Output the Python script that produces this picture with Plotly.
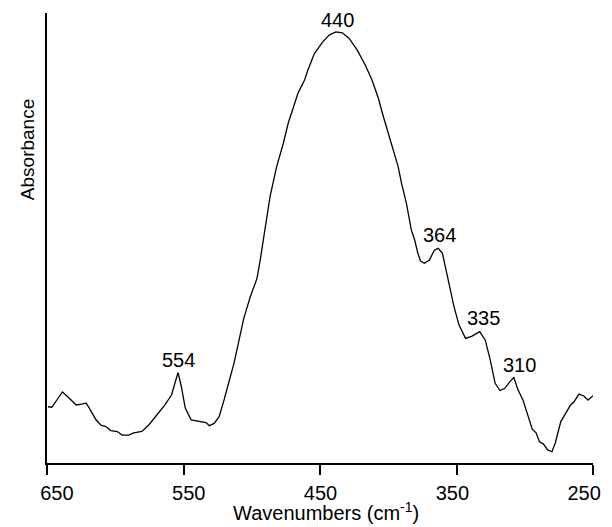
import numpy as np
import plotly.graph_objects as go

# Spectrum (wavenumber in cm^-1, absorbance in arbitrary units)
wavenumber = [649.3, 646.4, 642.8, 638.7, 634.8, 631.2, 628.6, 624.7, 621.3, 619.0,
              614.1, 610.5, 606.9, 603.3, 598.5, 594.9, 590.1, 586.5, 580.5, 575.6,
              569.6, 563.6, 558.8, 556.4, 554.0, 551.6, 548.7, 544.4, 537.1, 533.5,
              531.1, 527.5, 523.9, 520.3, 513.0, 505.8, 501.0, 496.2, 493.8, 490.2,
              486.6, 481.8, 476.9, 473.3, 469.7, 466.1, 461.3, 458.9, 454.1, 448.0,
              443.3, 438.4, 433.6, 428.8, 422.8, 416.8, 411.9, 407.2, 403.6, 400.0,
              396.4, 392.7, 390.3, 386.7, 383.1, 380.7, 378.3, 376.4, 373.5, 369.9,
              366.2, 363.4, 360.3, 356.6, 351.8, 348.2, 343.4, 338.6, 333.0, 328.9,
              325.3, 321.7, 318.1, 314.5, 310.9, 308.0, 304.9, 301.3, 297.7, 294.5,
              291.7, 289.2, 286.3, 283.2, 280.1, 277.7, 273.6, 270.0, 266.4, 263.9,
              260.3, 256.7, 253.6, 250.2, 248.3]
absorbance = [0.125, 0.124, 0.140, 0.158, 0.147, 0.136, 0.129, 0.131, 0.133, 0.122,
              0.096, 0.084, 0.081, 0.072, 0.070, 0.062, 0.062, 0.067, 0.070, 0.084,
              0.107, 0.129, 0.151, 0.177, 0.201, 0.170, 0.122, 0.096, 0.092, 0.090,
              0.083, 0.088, 0.103, 0.140, 0.222, 0.322, 0.370, 0.410, 0.451, 0.525,
              0.592, 0.658, 0.710, 0.755, 0.788, 0.822, 0.851, 0.873, 0.910, 0.936,
              0.951, 0.958, 0.956, 0.944, 0.918, 0.884, 0.851, 0.810, 0.770, 0.733,
              0.696, 0.658, 0.622, 0.577, 0.518, 0.496, 0.466, 0.449, 0.444, 0.451,
              0.473, 0.477, 0.466, 0.411, 0.347, 0.307, 0.277, 0.282, 0.292, 0.273,
              0.229, 0.177, 0.161, 0.166, 0.181, 0.190, 0.162, 0.140, 0.103, 0.075,
              0.067, 0.047, 0.042, 0.029, 0.025, 0.044, 0.092, 0.110, 0.129, 0.136,
              0.153, 0.149, 0.140, 0.149, 0.151]

peak_labels = [554, 440, 364, 335, 310]
tick_values = [650, 550, 450, 350, 250]
tick_labels = ["650", "550", "450", "350", "250"]

# label offsets (pixels) relative to the curve at each peak
label_xshift = [0, 4, 2, 7, 8]
label_yshift = [0, 0, 1, 2, 2]

FONT = "Arial, Liberation Sans, Helvetica, sans-serif"
FS = 20

fig = go.Figure()
fig.add_trace(go.Scatter(x=wavenumber, y=absorbance, mode="lines",
                         line=dict(color="black", width=1.3), showlegend=False,
                         hoverinfo="skip"))
# invisible helper trace so the (label-only) overlay axis has data
fig.add_trace(go.Scatter(x=tick_values, y=[None] * len(tick_values), xaxis="x2",
                         yaxis="y", mode="markers", marker=dict(opacity=0),
                         showlegend=False, hoverinfo="skip"))

wn_sorted = np.array(wavenumber[::-1])
ab_sorted = np.array(absorbance[::-1])
for lab, xs, ys in zip(peak_labels, label_xshift, label_yshift):
    yv = float(np.interp(lab, wn_sorted, ab_sorted))
    fig.add_annotation(x=lab, y=yv, xref="x", yref="y", text=str(lab),
                       showarrow=False, xanchor="center", yanchor="bottom",
                       xshift=xs, yshift=ys,
                       font=dict(family=FONT, size=FS, color="black"))

fig.add_annotation(x=-0.036, y=0.696, xref="paper", yref="paper",
                   text="Absorbance", textangle=-90, showarrow=False,
                   xanchor="center", yanchor="middle",
                   font=dict(family=FONT, size=FS - 1, color="black"))

fig.add_annotation(x=0.511, y=0, xref="paper", yref="paper",
                   text="Wavenumbers (cm<sup>-1</sup>)", showarrow=False,
                   xanchor="center", yanchor="middle", yshift=-48,
                   font=dict(family=FONT, size=FS, color="black"))

fig.update_layout(
    width=612, height=527,
    margin=dict(l=47, r=11, t=13, b=64),
    paper_bgcolor="white", plot_bgcolor="white",
    font=dict(family=FONT, size=FS, color="black"),
    xaxis=dict(range=[650, 250], autorange=False, tickmode="array",
               tickvals=tick_values, showticklabels=False, ticks="outside",
               ticklen=10, tickwidth=2, tickcolor="black", showline=True,
               linewidth=2, linecolor="black", showgrid=False, zeroline=False),
    xaxis2=dict(range=[657.5, 243.3], autorange=False, overlaying="x",
                side="bottom", anchor="y", tickmode="array",
                tickvals=tick_values, ticktext=tick_labels, ticks="outside",
                ticklen=10, tickcolor="rgba(0,0,0,0)", ticklabelstandoff=2,
                showline=False, showgrid=False, zeroline=False,
                tickfont=dict(family=FONT, size=FS, color="black")),
    yaxis=dict(range=[0, 1], showticklabels=False, ticks="", showline=True,
               linewidth=2, linecolor="black", showgrid=False, zeroline=False),
)

fig.write_html("out.html",
               config={"displayModeBar": False, "staticPlot": True},
               post_script="document.body.style.margin='0';"
                           "document.body.style.overflow='hidden';")
